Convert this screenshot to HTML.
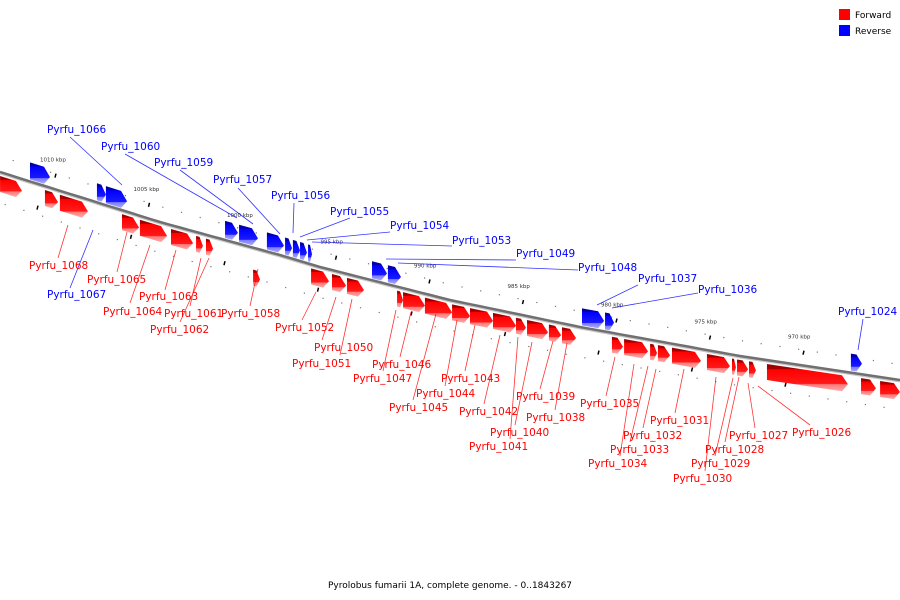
<!DOCTYPE html>
<html><head><meta charset="utf-8">
<style>
html,body{margin:0;padding:0;background:#fff;}
svg{display:block;font-family:"DejaVu Sans","Liberation Sans",sans-serif;}
</style></head>
<body>
<svg id="map" width="900" height="600" viewBox="0 0 900 600" xmlns="http://www.w3.org/2000/svg">
<defs>
<linearGradient id="gf" x1="0" y1="0" x2="0" y2="1">
<stop offset="0" stop-color="#990000"/><stop offset="0.18" stop-color="#aa0000"/><stop offset="0.2" stop-color="#ff0000"/><stop offset="0.72" stop-color="#ff1a1a"/><stop offset="0.75" stop-color="#ff7a7a"/><stop offset="1" stop-color="#ffaaaa"/>
</linearGradient>
<linearGradient id="gr" x1="0" y1="0" x2="0" y2="1">
<stop offset="0" stop-color="#000099"/><stop offset="0.18" stop-color="#0000aa"/><stop offset="0.2" stop-color="#0000ff"/><stop offset="0.72" stop-color="#1a1aff"/><stop offset="0.75" stop-color="#7a7aff"/><stop offset="1" stop-color="#aaaaff"/>
</linearGradient>
</defs>
<g id="backbone-g"></g>
<g id="ticks-g"></g>
<g id="genes-g"></g>
<g id="labels-g"></g>
<g>
<rect x="839" y="9" width="11" height="11" fill="#ff0000"/>
<text x="855" y="18" font-size="9" fill="#000">Forward</text>
<rect x="839" y="25" width="11" height="11" fill="#0000ff"/>
<text x="855" y="34" font-size="9" fill="#000">Reverse</text>
</g>
<text x="450" y="588" font-size="9" text-anchor="middle" fill="#000">Pyrolobus fumarii 1A, complete genome. - 0..1843267</text>
</svg>
<script>
// backbone shape (geometry)
var bx=[0,160,280,320,450,580,740,900], by=[172,222,255,267,300,327,356,380];
// data: forward genes (kbp)
var fwdStart=[1012.67,1010.27,1009.47,1006.15,1005.19,1003.53,1002.19,1001.66,999.14,996.04,994.92,994.12,991.44,991.12,989.95,988.50,987.54,986.31,985.08,984.49,983.32,982.62,979.95,979.30,977.91,977.49,976.74,974.87,973.53,973.26,972.62,971.66,966.63,965.61];
var fwdEnd  =[1011.50,1009.57,1007.97,1005.24,1003.74,1002.35,1001.82,1001.28,998.77,995.08,994.17,993.21,991.12,989.95,988.50,987.54,986.31,985.08,984.55,983.37,982.67,981.87,979.36,978.02,977.54,976.84,975.19,973.64,973.32,972.67,972.25,967.33,965.83,964.55];
var fwdTrack=[0,0,0,0,0,0,0,0,1,0,0,0,0,0,0,0,0,0,0,0,0,0,0,0,0,0,0,0,0,0,0,0,0,0];
// data: reverse genes (kbp)
var revStart=[1011.07,1007.49,1007.01,1000.64,999.89,998.40,997.43,997.01,996.63,996.20,992.78,991.93,981.55,980.32,967.17];
var revEnd  =[1010.00,1007.01,1005.88,999.95,998.88,997.49,997.06,996.63,996.26,995.99,991.98,991.23,980.37,979.84,966.58];
// data: scale ticks
var tickKbp=[1010,1005,1000,995,990,985,980,975,970];
var tickLabels=["1010 kbp","1005 kbp","1000 kbp","995 kbp","990 kbp","985 kbp","980 kbp","975 kbp","970 kbp"];

function xOf(k){return 50+(1010-k)*18.7;}
function lineY(x){
  for(var i=0;i<bx.length-1;i++){ if(x<=bx[i+1]||i==bx.length-2){var t=(x-bx[i])/(bx[i+1]-bx[i]);return by[i]+t*(by[i+1]-by[i]);} }
}
var NS="http://www.w3.org/2000/svg";
function mk(tag,attrs,parent){var e=document.createElementNS(NS,tag);for(var k in attrs)e.setAttribute(k,attrs[k]);parent.appendChild(e);return e;}

// backbone
var bg=document.getElementById('backbone-g');
var pts=[];for(var x=0;x<=900;x+=10)pts.push(x+","+lineY(x).toFixed(1));
var sh=mk('polyline',{points:pts.map(function(p){var a=p.split(',');return a[0]+','+(+a[1]+1.5);}).join(' '),fill:'none',stroke:'#c8c8c8','stroke-width':2},bg);


var bl=mk('polyline',{points:pts.join(' '),fill:'none',stroke:'#707070','stroke-width':2.5},bg);



// ticks
var tg=document.getElementById('ticks-g');
tickKbp.forEach(function(k,i){
  var x=xOf(k), y=lineY(x);
  var t=mk('text',{x:x-10,y:y-26,'font-size':5.5,fill:'#333'},tg);t.textContent=tickLabels[i];
  
  
  var m=mk('line',{x1:x+6,y1:y-14,x2:x+5,y2:y-10,stroke:'#000','stroke-width':1.5},tg);
  
  
  var m2=mk('line',{x1:x-12,y1:y+18,x2:x-13,y2:y+22,stroke:'#000','stroke-width':1.5},tg);
  
  
});
for(var k=1012;k>=965;k-=1){
  var x=xOf(k), y=lineY(x);
  var d=mk('rect',{x:x,y:y-16,width:1.2,height:1.2,fill:'#777'},tg);
  
  
  var d2=mk('rect',{x:x-8,y:y+28,width:1.2,height:1.2,fill:'#777'},tg);
  
  
}

// genes
var gg=document.getElementById('genes-g');
function gene(k1,k2,off,h,fill){
  var x1=xOf(k1),x2=xOf(k2);
  var y1=lineY(x1)+off,y2=lineY(x2)+off;
  var tip=Math.min(6,(x2-x1)*0.5);
  var xm=x2-tip, ym=y1+(y2-y1)*(xm-x1)/(x2-x1||1);
  var p=[x1+','+y1,xm+','+ym,x2+','+(y2+h/2),xm+','+(ym+h),x1+','+(y1+h)].join(' ');
  return mk('polygon',{points:p,fill:fill},gg);
}
fwdStart.forEach(function(s,i){
  var g=gene(s,fwdEnd[i],4+fwdTrack[i]*18,16,'url(#gf)');
  
  
});
revStart.forEach(function(s,i){
  var g=gene(s,revEnd[i],-19,17,'url(#gr)');
  
  
});

// labels: text, x, y, lineX1, lineY1, lineX2, lineY2, color
var labels=[
["Pyrfu_1066",47,133,70,137,122,185,"b"],["Pyrfu_1060",101,150,125,154,237,218,"b"],["Pyrfu_1059",154,166,180,170,253,224,"b"],
["Pyrfu_1057",213,183,238,188,280,234,"b"],["Pyrfu_1056",271,199,294,203,293,233,"b"],["Pyrfu_1055",330,215,350,218,300,237,"b"],
["Pyrfu_1054",390,229,390,232,307,240,"b"],["Pyrfu_1053",452,244,452,246,312,242,"b"],["Pyrfu_1049",516,257,516,260,386,259,"b"],
["Pyrfu_1048",578,271,578,270,398,263,"b"],["Pyrfu_1037",638,282,638,285,597,305,"b"],["Pyrfu_1036",698,293,698,293,612,308,"b"],
["Pyrfu_1024",838,315,863,319,858,350,"b"],["Pyrfu_1067",47,298,70,288,93,230,"b"],
["Pyrfu_1068",29,269,58,258,68,225,"r"],["Pyrfu_1065",87,283,117,272,127,232,"r"],["Pyrfu_1064",103,315,130,303,150,245,"r"],
["Pyrfu_1063",139,300,165,290,176,250,"r"],["Pyrfu_1061",164,317,190,306,201,258,"r"],["Pyrfu_1062",150,333,180,322,209,258,"r"],
["Pyrfu_1058",221,317,250,306,258,269,"r"],["Pyrfu_1052",275,331,302,320,316,292,"r"],["Pyrfu_1050",314,351,322,340,336,297,"r"],
["Pyrfu_1051",292,367,340,355,352,299,"r"],["Pyrfu_1046",372,368,400,357,411,312,"r"],["Pyrfu_1047",353,382,383,371,396,310,"r"],
["Pyrfu_1043",441,382,465,371,475,325,"r"],["Pyrfu_1044",416,397,445,386,457,320,"r"],["Pyrfu_1045",389,411,413,400,436,314,"r"],
["Pyrfu_1042",459,415,484,404,500,335,"r"],["Pyrfu_1039",516,400,540,389,553,341,"r"],["Pyrfu_1038",526,421,555,410,567,343,"r"],
["Pyrfu_1040",490,436,515,425,532,342,"r"],["Pyrfu_1041",469,450,510,439,518,337,"r"],["Pyrfu_1035",580,407,606,396,615,357,"r"],
["Pyrfu_1031",650,424,675,413,684,369,"r"],["Pyrfu_1032",623,439,643,428,656,369,"r"],["Pyrfu_1033",610,453,630,442,648,366,"r"],
["Pyrfu_1034",588,467,620,456,634,364,"r"],["Pyrfu_1027",729,439,755,428,748,383,"r"],["Pyrfu_1028",705,453,725,442,739,377,"r"],
["Pyrfu_1029",691,467,715,456,733,378,"r"],["Pyrfu_1030",673,482,705,471,716,377,"r"],["Pyrfu_1026",792,436,810,425,758,386,"r"]
];
var lg=document.getElementById('labels-g');
labels.forEach(function(L){
  var c=L[7]=="b"?"#0000ff":"#ff0000";
  var ln=mk('line',{x1:L[3],y1:L[4],x2:L[5],y2:L[6],stroke:c,'stroke-width':0.8,opacity:0.8},lg);
  
  
  var t=mk('text',{x:L[1],y:L[2],'font-size':10.5,fill:c},lg);
  t.textContent=L[0];
  
  
});
</script>
</body></html>
